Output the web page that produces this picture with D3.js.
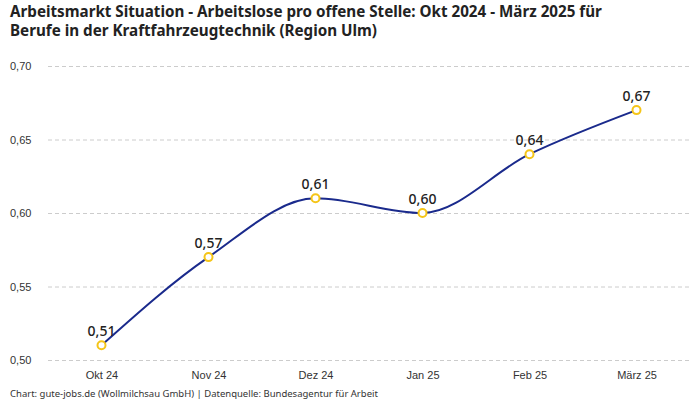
<!DOCTYPE html>
<html><head><meta charset="utf-8">
<script src="https://cdn.jsdelivr.net/npm/d3@7"></script>
<style>body{margin:0;background:#fff}svg{display:block;font-family:"Noto Sans",Roboto,sans-serif}</style>
</head><body><svg id="c" width="700" height="400"></svg>
<script>
const categories = ["Okt 24","Nov 24","Dez 24","Jan 25","Feb 25","März 25"];
const values = [0.51,0.57,0.61,0.60,0.64,0.67];
const yTicks = [0.50,0.55,0.60,0.65,0.70];
const titleLines = ["Arbeitsmarkt Situation - Arbeitslose pro offene Stelle: Okt 2024 - März 2025 für","Berufe in der Kraftfahrzeugtechnik (Region Ulm)"];
const footer = "Chart: gute-jobs.de (Wollmilchsau GmbH) | Datenquelle: Bundesagentur für Arbeit";

const loc = d3.formatLocale({decimal:",",thousands:".",grouping:[3],currency:["","€"]});
const f2 = loc.format(".2f");
const svg = d3.select("#c");
const x = d3.scalePoint().domain(categories).range([48,690]).padding(0.5);
const y = d3.scaleLinear().domain([0.50,0.70]).range([360,66]);

svg.selectAll("text.title").data(titleLines).join("text")
  .attr("x",10).attr("y",(d,i)=>17+i*19).attr("font-size",15.2).attr("font-weight","bold").attr("fill","#222").text(d=>d);

const yAxis = svg.append("g").attr("transform","translate(48,0)")
  .call(d3.axisLeft(y).tickValues(yTicks).tickSize(-642).tickFormat(f2));
yAxis.select(".domain").remove();
yAxis.selectAll(".tick line").attr("stroke","#ccc").attr("stroke-dasharray","4,3");
yAxis.selectAll(".tick text").attr("x",-38).attr("text-anchor","start").attr("font-size",11).attr("fill","#333").attr("font-family","inherit");

const xAxis = svg.append("g").attr("transform","translate(0,362)").call(d3.axisBottom(x).tickSize(0).tickPadding(9));
xAxis.select(".domain").remove();
xAxis.selectAll(".tick text").attr("font-size",11).attr("fill","#333").attr("font-family","inherit");

const data = categories.map((c,i)=>({c,v:values[i]}));
svg.append("path").datum(data)
  .attr("d",d3.line().x(d=>x(d.c)).y(d=>y(d.v)).curve(d3.curveMonotoneX))
  .attr("fill","none").attr("stroke","#1a2a8c").attr("stroke-width",2);
svg.selectAll("circle.p").data(data).join("circle")
  .attr("cx",d=>x(d.c)).attr("cy",d=>y(d.v)).attr("r",4)
  .attr("fill","#fff").attr("stroke","#f5c518").attr("stroke-width",2);
svg.selectAll("text.lbl").data(data).join("text")
  .attr("x",d=>x(d.c)).attr("y",d=>y(d.v)-9).attr("text-anchor","middle")
  .attr("font-size",14).attr("font-weight",500).attr("fill","#222").text(d=>f2(d.v));

svg.append("text").attr("x",10).attr("y",397).attr("font-size",9.5).attr("fill","#333").text(footer);
</script></body></html>
